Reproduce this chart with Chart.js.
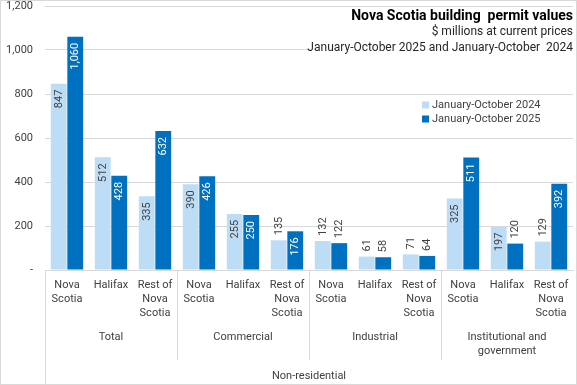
<!DOCTYPE html>
<html>
<head>
<meta charset="utf-8">
<script src="https://cdn.jsdelivr.net/npm/chart.js@4.4.1/dist/chart.umd.min.js"></script>
<style>
  html, body { margin: 0; padding: 0; background: #fff; }
  #wrap { width: 577px; height: 385px; position: relative; }
</style>
</head>
<body>
<div id="wrap"><canvas id="c"></canvas></div>
<script>
const regions = [['Nova', 'Scotia'], 'Halifax', ['Rest of', 'Nova', 'Scotia']]
const categories = [...regions, ...regions, ...regions, ...regions]
const groups = [['Total'], ['Commercial'], ['Industrial'], ['Institutional and', 'government']]
const topGroup = 'Non-residential'

const series2024 = [847, 512, 335, 390, 255, 135, 132, 61, 71, 325, 197, 129]
const series2025 = [1060, 428, 632, 426, 250, 176, 122, 58, 64, 511, 120, 392]
const seriesLabels = ['January-October 2024', 'January-October 2025']

const yTicksList = [0, 200, 400, 600, 800, 1000, 1200]

const titleLines = [
  'Nova Scotia building  permit values',
  '$ millions at current prices',
  'January-October 2025 and January-October  2024',
]

const LIGHT = '#BDDDF7'
const DARK = '#0070C0'
const TEXT = '#404040'
const GRID = '#D9D9D9'
const FONT = 'Roboto, "Liberation Sans", sans-serif'

const overlay = {
  id: 'overlay',
  afterDatasetsDraw (chart) {
    const ctx = chart.ctx
    // value labels
    ctx.save()
    ctx.font = `11px ${FONT}`
    chart.data.datasets.forEach((ds, di) => {
      const meta = chart.getDatasetMeta(di)
      meta.data.forEach((bar, i) => {
        const txt = ds.data[i].toLocaleString('en-US')
        const w = ctx.measureText(txt).width
        const h = bar.base - bar.y
        ctx.save()
        ctx.textBaseline = 'middle'
        if (h > w + 12) {
          ctx.translate(bar.x, bar.y + 6)
          ctx.rotate(-Math.PI / 2)
          ctx.textAlign = 'right'
          ctx.fillStyle = di === 1 ? '#fff' : TEXT
        } else {
          ctx.translate(bar.x, bar.y - 5)
          ctx.rotate(-Math.PI / 2)
          ctx.textAlign = 'left'
          ctx.fillStyle = TEXT
        }
        ctx.fillText(txt, 0, 0)
        ctx.restore()
      })
    })
    ctx.restore()
  },
  afterDraw (chart) {
    const ctx = chart.ctx
    const x = chart.scales.x
    const area = chart.chartArea
    const W = chart.width
    const H = chart.height
    ctx.save()

    // title block with white backing
    ctx.fillStyle = '#fff'
    ctx.fillRect(311, 8, W - 311 - 2, 48)
    ctx.fillStyle = '#000'
    ctx.textAlign = 'right'
    ctx.textBaseline = 'middle'
    ctx.font = `bold 14px ${FONT}`
    ctx.fillText(titleLines[0], 573, 16)
    ctx.font = `12px ${FONT}`
    ctx.fillStyle = '#262626'
    ctx.fillText(titleLines[1], 573, 32)
    ctx.fillText(titleLines[2], 573, 48)

    // legend
    ctx.fillStyle = '#fff'
    ctx.fillRect(416, 97, 130, 30)
    ctx.font = `11px ${FONT}`
    ctx.textAlign = 'left'
    ;[LIGHT, DARK].forEach((col, i) => {
      const y = 105 + i * 14
      ctx.fillStyle = col
      ctx.fillRect(422, y - 3.5, 7, 7)
      ctx.fillStyle = TEXT
      ctx.fillText(seriesLabels[i], 432, y)
    })

    // category group separators and labels
    const px = i => x.getPixelForValue(i)
    ctx.strokeStyle = GRID
    ctx.lineWidth = 1
    const left = Math.round(area.left) + 0.5
    ctx.beginPath()
    ctx.moveTo(left, area.bottom)
    ctx.lineTo(left, H - 1)
    for (let g = 1; g < groups.length; g++) {
      const sx = Math.round((px(g * 3 - 1) + px(g * 3)) / 2) + 0.5
      ctx.moveTo(sx, area.bottom)
      ctx.lineTo(sx, 360)
    }
    ctx.stroke()

    ctx.fillStyle = TEXT
    ctx.font = `11px ${FONT}`
    ctx.textAlign = 'center'
    groups.forEach((lines, g) => {
      const cx = (px(g * 3) + px(g * 3 + 2)) / 2
      lines.forEach((ln, k) => ctx.fillText(ln, cx, 337 + k * 14))
    })
    ctx.fillText(topGroup, (area.left + area.right) / 2, 376)

    // outer frame
    ctx.strokeStyle = GRID
    ctx.strokeRect(0.5, 0.5, W - 1, H - 1)
    ctx.restore()
  },
}

new Chart(document.getElementById('c'), {
  type: 'bar',
  data: {
    labels: categories,
    datasets: [
      { label: seriesLabels[0], data: series2024, backgroundColor: LIGHT },
      { label: seriesLabels[1], data: series2025, backgroundColor: DARK },
    ],
  },
  options: {
    responsive: true,
    maintainAspectRatio: false,
    animation: false,
    devicePixelRatio: 1,
    layout: { padding: { top: 6, right: 4, left: 0, bottom: 0 } },
    datasets: { bar: { categoryPercentage: 0.75, barPercentage: 0.96 } },
    plugins: {
      legend: { display: false },
      tooltip: { enabled: false },
      title: { display: false },
    },
    scales: {
      x: {
        grid: { display: false, drawTicks: false },
        border: { display: true, color: GRID },
        ticks: {
          color: TEXT,
          font: { family: FONT, size: 11, lineHeight: 1.27 },
          padding: 8,
          maxRotation: 0,
          autoSkip: false,
        },
        afterFit (scale) {
          scale.height = 115
          scale.paddingLeft = 0
          scale.paddingRight = 0
        },
      },
      y: {
        min: 0,
        max: 1200,
        afterBuildTicks (scale) { scale.ticks = yTicksList.map(v => ({ value: v })) },
        grid: { color: GRID, drawTicks: false },
        border: { display: false },
        ticks: {
          color: TEXT,
          font: { family: FONT, size: 11 },
          padding: 12,
          callback: v => v === 0 ? '-' : v.toLocaleString('en-US'),
        },
        afterFit (scale) {
          scale.width = 45
          scale.paddingTop = 0
          scale.paddingBottom = 0
        },
      },
    },
  },
  plugins: [overlay],
})
</script>
</body>
</html>
